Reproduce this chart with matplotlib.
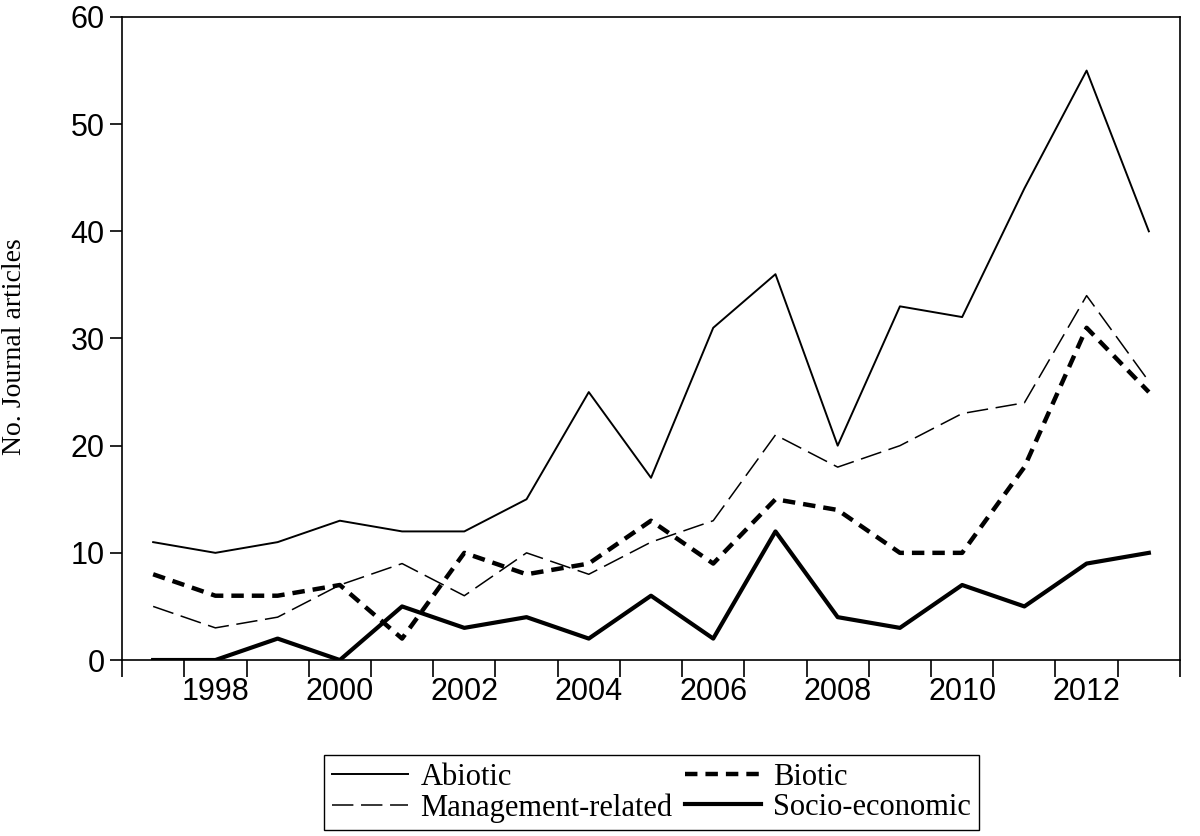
import matplotlib
matplotlib.use("Agg")
import matplotlib.pyplot as plt
import numpy as np

years = np.arange(1997, 2014)
abiotic = [11, 10, 11, 13, 12, 12, 15, 25, 17, 31, 36, 20, 33, 32, 44, 55, 40]
management = [5, 3, 4, 7, 9, 6, 10, 8, 11, 13, 21, 18, 20, 23, 24, 34, 26]
biotic = [8, 6, 6, 7, 2, 10, 8, 9, 13, 9, 15, 14, 10, 10, 18, 31, 25]
socio = [0, 0, 2, 0, 5, 3, 4, 2, 6, 2, 12, 4, 3, 7, 5, 9, 10]

fig = plt.figure(figsize=(12, 8.36), dpi=100)
ax = fig.add_axes([0.1017, 0.2105, 0.8816, 0.7692])

l1, = ax.plot(years, abiotic, color="black", lw=1.4, label="Abiotic")
l2, = ax.plot(years, management, color="black", lw=1.1, dashes=(14, 5),
              label="Management-related")
l3, = ax.plot(years, biotic, color="black", lw=3.2, dashes=(2.8, 1.8),
              label="Biotic")
l4, = ax.plot(years, socio, color="black", lw=3.0, label="Socio-economic")

ax.set_xlim(1996.5, 2013.5)
ax.set_ylim(0, 60)

# ticks between years, labels on even years
ax.set_xticks(np.arange(1996.5, 2014, 1))
ax.set_xticklabels([])
ax.set_xticks(np.arange(1998, 2013, 2), minor=True)
ax.set_xticklabels([str(y) for y in range(1998, 2013, 2)], minor=True,
                   fontsize=22, family="Liberation Sans")
ax.tick_params(axis="x", which="major", direction="out", length=12, width=1.2)
ax.tick_params(axis="x", which="minor", length=0, pad=12)

ax.set_yticks(range(0, 61, 10))
ax.tick_params(axis="y", direction="out", length=9, width=1.2, labelsize=22)
for t in ax.get_yticklabels():
    t.set_family("Liberation Sans")

for s in ax.spines.values():
    s.set_linewidth(1.2)

ax.set_ylabel("No. Journal articles", fontsize=20, family="Liberation Serif")
ax.yaxis.set_label_coords(-0.09, 0.487)

fig.legend(handles=[l1, l2, l3, l4], ncol=2, loc="center",
           bbox_to_anchor=(0.543, 0.052), frameon=True, fancybox=False,
           edgecolor="black", framealpha=1, handlelength=2.5,
           columnspacing=0.4, handletextpad=0.4, borderpad=0.25,
           labelspacing=0.05, borderaxespad=0,
           prop={"family": "Liberation Serif", "size": 22})

fig.savefig("out.png", dpi=100)
